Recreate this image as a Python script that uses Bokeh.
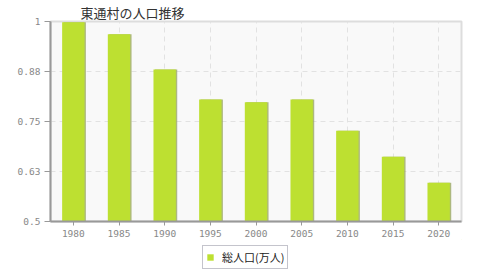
from bokeh.plotting import figure
from bokeh.layouts import column
from bokeh.models import ColumnDataSource, FixedTicker, Legend, LegendItem, Range1d
from bokeh.transform import dodge
from bokeh.embed import file_html
from bokeh.resources import INLINE

years = ["1980", "1985", "1990", "1995", "2000", "2005", "2010", "2015", "2020"]
population = [0.998, 0.968, 0.880, 0.805, 0.798, 0.805, 0.727, 0.662, 0.597]
y_ticks = [0.5, 0.625, 0.75, 0.875, 1.0]
y_tick_labels = ["0.5", "0.63", "0.75", "0.88", "1"]
title_text = "東通村の人口推移"
series_name = "総人口(万人)"

src = ColumnDataSource(dict(x=years, y=population))

p = figure(x_range=years, y_range=Range1d(0.5, 1.0),
           frame_width=411, frame_height=200,
           output_backend="svg", toolbar_location=None,
           min_border_left=50, min_border_right=19, min_border_top=0, min_border_bottom=0)

p.title.text = title_text
p.title.text_font = "Noto Sans CJK JP"
p.title.text_font_size = "13px"
p.title.text_font_style = "normal"
p.title.text_color = "#333333"
p.title.align = "left"
p.title.offset = 30
p.title.standoff = 0

p.background_fill_color = "#f9f9f9"
p.border_fill_color = "white"
p.outline_line_color = "#dddddd"
p.outline_line_width = 2

shadow = p.vbar(x=dodge("x", 0.03, range=p.x_range), top="y", bottom=0.5, width=0.49,
                source=src, fill_color="#9aa860", line_color=None, fill_alpha=0.8)
bars = p.vbar(x="x", top="y", bottom=0.5, width=0.49, source=src,
              fill_color="#bde031", line_color=None)

p.yaxis.ticker = FixedTicker(ticks=y_ticks)
p.yaxis.major_label_overrides = {t: l for t, l in zip(y_ticks, y_tick_labels)}

for ax in (p.xaxis[0], p.yaxis[0]):
    ax.axis_line_color = "#999999"
    ax.axis_line_width = 2
    ax.major_tick_line_color = "#999999"
    ax.minor_tick_line_color = None
    ax.major_label_text_color = "#888888"
    ax.major_label_text_font = "DejaVu Sans Mono"
    ax.major_label_text_font_size = "9.5px"
    ax.major_tick_in = 0
p.yaxis.major_tick_out = 6
p.xaxis.major_tick_out = 4
p.yaxis.major_label_standoff = 4
p.xaxis.major_label_standoff = 4

p.xgrid.grid_line_color = "#e2e2e2"
p.ygrid.grid_line_color = "#e2e2e2"
p.xgrid.grid_line_dash = "5 4"
p.ygrid.grid_line_dash = "5 4"

# legend strip below the chart
lg = figure(width=480, height=38, x_range=Range1d(0, 1), y_range=Range1d(0, 1),
            x_axis_type=None, y_axis_type=None, output_backend="svg",
            toolbar_location=None, min_border=0)
lg.outline_line_color = None
lg.xgrid.visible = False
lg.ygrid.visible = False
key = lg.vbar(x=[5], top=[5], bottom=[4], width=0.5, fill_color="#bde031", line_color=None)
legend = Legend(items=[LegendItem(label=series_name, renderers=[key])],
                orientation="horizontal", location=(152, 8),
                label_text_font="Noto Sans CJK JP", label_text_font_size="11px",
                label_text_color="#222222", glyph_width=8, glyph_height=8,
                border_line_color="#8a8a9a", border_line_width=1,
                padding=3, margin=0, spacing=4, label_standoff=8,
                label_height=9, background_fill_color="white")
lg.add_layout(legend, "center")

layout = column(p, lg, spacing=0)
open("out.html", "w").write(file_html(layout, INLINE))
